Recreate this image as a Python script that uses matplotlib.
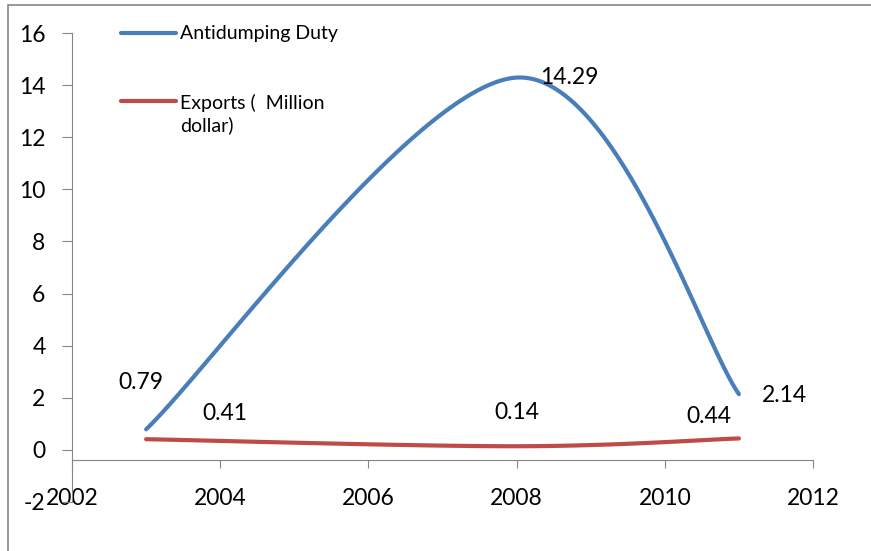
import numpy as np
import matplotlib.pyplot as plt
from matplotlib.lines import Line2D
from matplotlib.patches import Rectangle

# values per year
years = [2003, 2008, 2011]
duty = [0.79, 14.29, 2.14]
exports = [0.41, 0.14, 0.44]

duty_label = "Antidumping Duty"
exports_label = "Exports (  Million\ndollar)"

BLUE = "#4A7EBB"
RED = "#BE4B48"
GREY = "#868686"

plt.rcParams['font.family'] = ['Lato', 'DejaVu Sans']
plt.rcParams['axes.unicode_minus'] = False


def smooth(xs, ys, n=60):
    """Excel-style smoothed line: cubic Bezier segments with Catmull-Rom control points."""
    pts = np.column_stack([xs, ys]).astype(float)
    padded = np.vstack([pts[0], pts, pts[-1]])
    out = []
    t = np.linspace(0, 1, n)[:, None]
    for i in range(len(pts) - 1):
        p0, p1 = padded[i + 1], padded[i + 2]
        c1 = p0 + (padded[i + 2] - padded[i]) / 6
        c2 = p1 - (padded[i + 3] - padded[i + 1]) / 6
        seg = ((1 - t) ** 3) * p0 + 3 * ((1 - t) ** 2) * t * c1 + 3 * (1 - t) * t ** 2 * c2 + t ** 3 * p1
        out.append(seg if i == 0 else seg[1:])
    seg = np.vstack(out)
    return seg[:, 0], seg[:, 1]


fig = plt.figure(figsize=(8.71, 5.51), dpi=100)
W, H = 871, 551
ax = fig.add_axes([72 / W, 49 / H, 741 / W, 469 / H])

for ys, col in [(duty, BLUE), (exports, RED)]:
    sx, sy = smooth(years, ys)
    ax.plot(sx, sy, color=col, lw=3.0, solid_capstyle='round', zorder=3)

ax.set_xlim(2002, 2012)
ax.set_ylim(-2, 16)
ax.set_xticks(range(2002, 2013, 2))
ax.set_yticks(range(-2, 17, 2))

for s in ['top', 'right']:
    ax.spines[s].set_visible(False)
ax.spines['left'].set_color(GREY)
ax.spines['bottom'].set_color(GREY)
ax.spines['bottom'].set_position(('data', -0.4))
ax.tick_params(axis='y', length=7, color=GREY, labelsize=16.5, pad=12)
ax.tick_params(axis='x', length=6, color=GREY, labelsize=16.5, pad=14)

# data labels, offset from their points
lab_kw = dict(fontsize=16.5, ha='center', va='center', zorder=5)
offsets = {
    'duty': [(-0.07, 1.79), (0.71, 0.01), (0.62, -0.05)],
    'exports': [(1.06, 0.99), (0.0, 1.31), (-0.4, 0.83)],
}
for key, vals in [('duty', duty), ('exports', exports)]:
    for x, v, (dx, dy) in zip(years, vals, offsets[key]):
        ax.text(x + dx, v + dy, f"{v:.2f}", **lab_kw)

# legend drawn by hand in pixel coordinates
def px(x, y):
    return x / W, 1 - y / H

for y, col, text, ty in [(33, BLUE, duty_label, 33), (101, RED, exports_label, 114)]:
    (x0, y0), (x1, _) = px(121, y), px(176, y)
    fig.add_artist(Line2D([x0, x1], [y0, y0], color=col, lw=3.0,
                          solid_capstyle='round', transform=fig.transFigure))
    tx, tyf = px(180, ty)
    fig.text(tx, tyf, text, fontsize=14, ha='left', va='center', linespacing=1.3)

# chart area border
fig.add_artist(Rectangle((8 / W, -0.1), 1.2, 1.1 - 5 / H, fill=False,
                         edgecolor=GREY, lw=1.2, transform=fig.transFigure))

fig.savefig("out.png", dpi=100)
